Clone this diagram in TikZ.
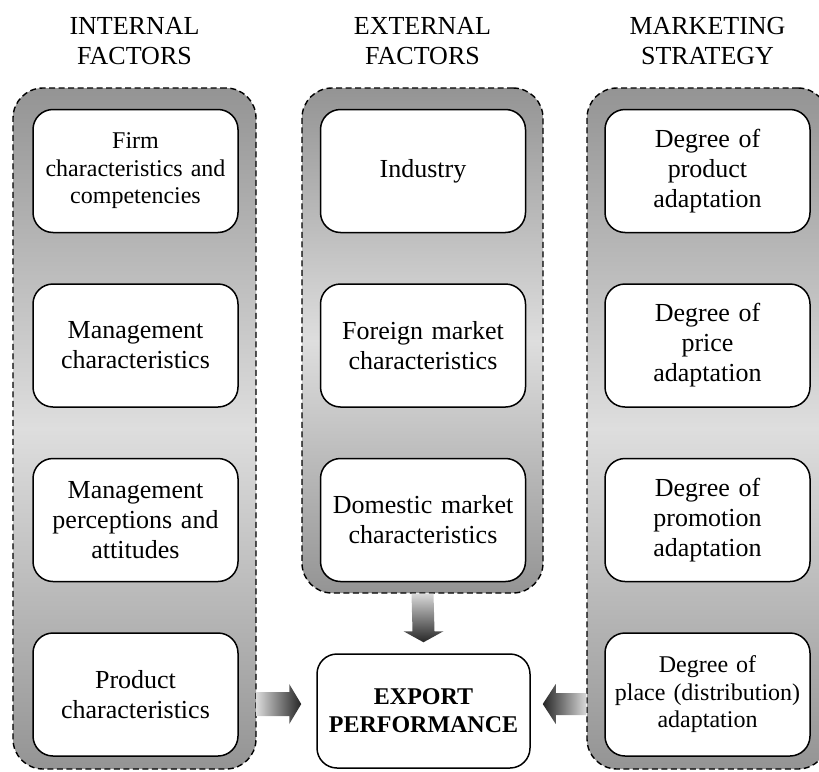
\documentclass[tikz,border=0pt]{standalone}
\usepackage{fontspec}
\setmainfont{Liberation Serif}
\usetikzlibrary{positioning, calc}

\tikzset{
  factorgroup/.style={draw, dash pattern=on 6pt off 3.5pt, line width=1.4pt, rounded corners=30pt,
    top color=black!42, bottom color=black!42, middle color=black!13},
  factor/.style={draw, line width=1.5pt, rounded corners=20pt, fill=white, minimum width=205pt,
    minimum height=123pt, text width=195pt, inner xsep=5pt, align=center, font=\fontsize{26}{30}\selectfont},
  smalltext/.style={font=\fontsize{24}{27.5}\selectfont},
  heading/.style={align=center, inner sep=0pt, font=\fontsize{26}{30}\selectfont},
}

\begin{document}
\begin{tikzpicture}[x=1pt, y=-1pt]
        \useasboundingbox (0,0) rectangle (819,771);

        % Shaded frames behind each column
        \node [factorgroup, minimum width=243pt, minimum height=681pt] (lgrp) at (134.5,428.5) {};
        \node [factorgroup, minimum width=241pt, minimum height=505pt] (egrp) at (422.5,340.5) {};
        \node [factorgroup, minimum width=241pt, minimum height=681pt] (mgrp) at (707.5,428.5) {};

        % Column headings
        \node [heading, above=22pt of lgrp] (ihead) {INTERNAL\\FACTORS};
        \node [heading, above=22pt of egrp] (ehead) {EXTERNAL\\FACTORS};
        \node [heading, above=22pt of mgrp] (mhead) {MARKETING\\STRATEGY};

        % Internal factors
        \node [factor, smalltext] (if1) at (135.5,171) {Firm\\characteristics and\\competencies};
        \node [factor, below=50pt of if1] (if2) {Management\\characteristics};
        \node [factor, below=50pt of if2] (if3) {Management\\perceptions and\\attitudes};
        \node [factor, below=50pt of if3] (if4) {Product\\characteristics};

        % External factors
        \node [factor] (ef1) at (423,171) {Industry};
        \node [factor, below=50pt of ef1] (ef2) {Foreign market\\characteristics};
        \node [factor, below=50pt of ef2] (ef3) {Domestic market\\characteristics};

        % Marketing strategy
        \node [factor] (ms1) at (707.5,171) {Degree of\\product\\adaptation};
        \node [factor, below=50pt of ms1] (ms2) {Degree of\\price\\adaptation};
        \node [factor, below=50pt of ms2] (ms3) {Degree of\\promotion\\adaptation};
        \node [factor, smalltext, below=50pt of ms3] (ms4) {Degree of\\place (distribution)\\adaptation};

        % Outcome
        \node [factor, minimum width=213pt, minimum height=114pt, font=\bfseries\fontsize{24}{28}\selectfont]
          (perf) at (423.5,711) {EXPORT\\PERFORMANCE};

        % Fat arrows into the outcome box
        \coordinate (lin) at ([yshift=7pt]perf.west);
        \coordinate (rin) at ([yshift=7pt]perf.east);
        \coordinate (ltail) at (lin -| lgrp.east);
        \coordinate (rtail) at (rin -| mgrp.west);
        \coordinate (dbase) at ([yshift=22pt]perf.north);
        \coordinate (dtip) at ([yshift=11pt]perf.north);

        \shade [left color=black!15, right color=black!85]
          ([yshift=12pt]ltail) -- ([xshift=-27pt,yshift=12pt]lin) -- ([xshift=-27pt,yshift=20pt]lin)
          -- ([xshift=-15pt]lin) -- ([xshift=-27pt,yshift=-20pt]lin) -- ([xshift=-27pt,yshift=-12pt]lin)
          -- ([yshift=-12pt]ltail) -- cycle;

        \shade [left color=black!85, right color=black!15]
          ([yshift=11pt]rtail) -- ([xshift=25pt,yshift=11pt]rin) -- ([xshift=25pt,yshift=20pt]rin)
          -- ([xshift=12pt]rin) -- ([xshift=25pt,yshift=-20pt]rin) -- ([xshift=25pt,yshift=-11pt]rin)
          -- ([yshift=-11pt]rtail) -- cycle;

        \shade [top color=black!15, bottom color=black!85]
          ([xshift=-11pt]egrp.south) -- ([xshift=-11pt]dbase) -- ([xshift=-20pt]dbase) -- (dtip)
          -- ([xshift=20pt]dbase) -- ([xshift=11pt]dbase) -- ([xshift=11pt]egrp.south) -- cycle;
\end{tikzpicture}
\end{document}
